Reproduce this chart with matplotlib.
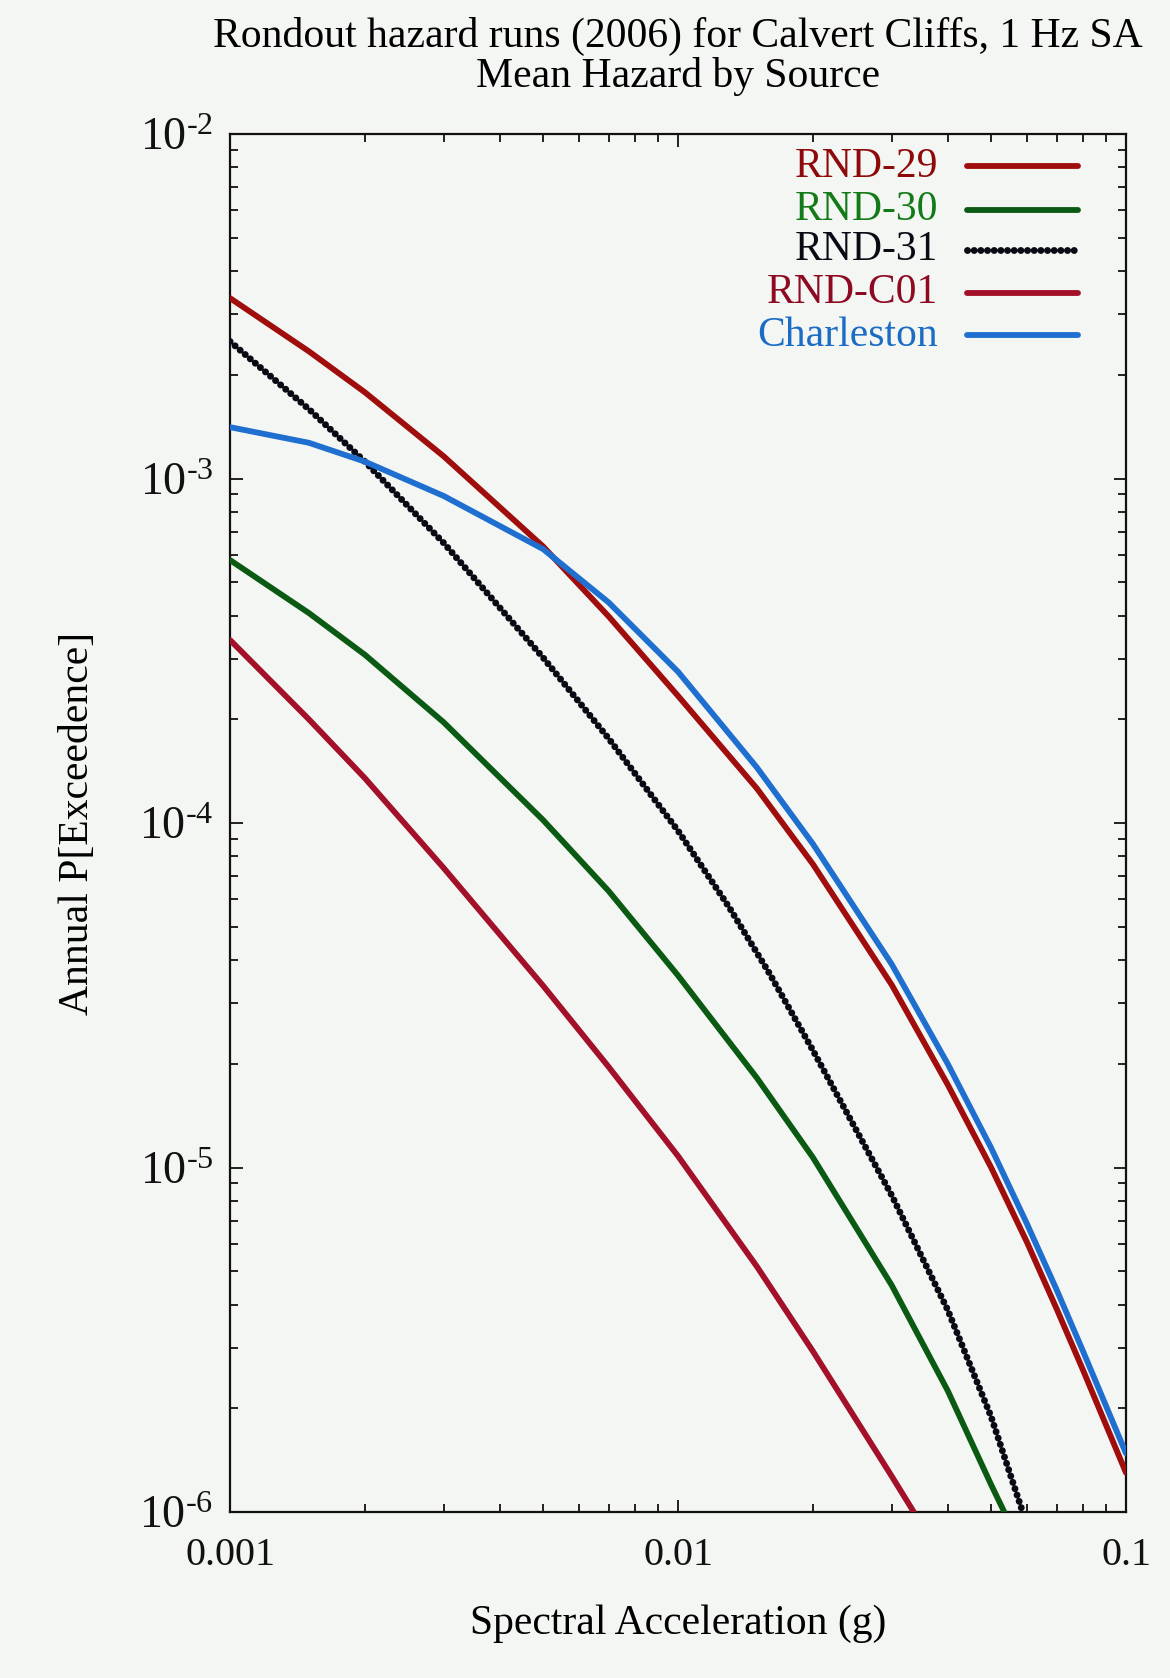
import matplotlib
matplotlib.use("Agg")
import matplotlib.pyplot as plt
from matplotlib.ticker import LogLocator, FixedLocator, FixedFormatter, NullFormatter

plt.rcParams['font.family'] = ['Liberation Serif', 'DejaVu Serif']
plt.rcParams['mathtext.fontset'] = 'custom'
plt.rcParams['mathtext.rm'] = 'Liberation Serif'
plt.rcParams['mathtext.it'] = 'Liberation Serif'

# spectral acceleration (g) and mean annual exceedance per source
sa_29 = [0.001, 0.0015, 0.002, 0.003, 0.005, 0.007, 0.01, 0.015, 0.02, 0.03, 0.04, 0.05, 0.06, 0.07, 0.08, 0.1]
rnd29 = [3.34e-3, 2.34e-3, 1.78e-3, 1.16e-3, 6.35e-4, 3.98e-4, 2.34e-4, 1.26e-4, 7.6e-5, 3.39e-5, 1.74e-5, 1.0e-5, 6.1e-6, 3.89e-6, 2.6e-6, 1.3e-6]

sa_30 = [0.001, 0.0015, 0.002, 0.003, 0.005, 0.007, 0.01, 0.015, 0.02, 0.03, 0.04, 0.05, 0.0535]
rnd30 = [5.8e-4, 4.07e-4, 3.08e-4, 1.96e-4, 1.02e-4, 6.35e-5, 3.61e-5, 1.82e-5, 1.07e-5, 4.55e-6, 2.25e-6, 1.2e-6, 1.0e-6]

sa_31 = [0.001, 0.0015, 0.002, 0.003, 0.005, 0.007, 0.01, 0.013, 0.016, 0.02, 0.03, 0.04, 0.05, 0.0588]
rnd31 = [2.5e-3, 1.59e-3, 1.12e-3, 6.5e-4, 3.02e-4, 1.76e-4, 9.5e-5, 5.7e-5, 3.66e-5, 2.19e-5, 8.3e-6, 3.86e-6, 1.89e-6, 1.0e-6]

sa_c01 = [0.001, 0.0015, 0.002, 0.003, 0.005, 0.007, 0.01, 0.015, 0.02, 0.03, 0.0336]
rndc01 = [3.4e-4, 2.0e-4, 1.35e-4, 7.4e-5, 3.37e-5, 1.96e-5, 1.08e-5, 5.16e-6, 2.93e-6, 1.27e-6, 1.0e-6]

sa_chs = [0.001, 0.0015, 0.002, 0.003, 0.005, 0.007, 0.01, 0.015, 0.02, 0.03, 0.04, 0.05, 0.06, 0.07, 0.08, 0.1]
charleston = [1.41e-3, 1.27e-3, 1.12e-3, 8.9e-4, 6.24e-4, 4.37e-4, 2.75e-4, 1.45e-4, 8.7e-5, 3.89e-5, 2.0e-5, 1.14e-5, 6.9e-6, 4.42e-6, 2.95e-6, 1.48e-6]

y_ticks = [1e-6, 1e-5, 1e-4, 1e-3, 1e-2]
y_tick_labels = [r'$10^{\text{-}6}$', r'$10^{\text{-}5}$', r'$10^{\text{-}4}$', r'$10^{\text{-}3}$', r'$10^{\text{-}2}$']
x_ticks = [0.001, 0.01, 0.1]
x_tick_labels = ['0.001', '0.01', '0.1']

bg = '#f4f6f3'
fig = plt.figure(figsize=(11.7, 16.78), dpi=100, facecolor=bg)
ax = fig.add_axes([0.1966, 0.0989, 0.7658, 0.8212], facecolor=bg)

series = [
    (sa_29, rnd29, 'RND-29', '#a00d0d', '#8e0a0a', '-'),
    (sa_30, rnd30, 'RND-30', '#0b5a14', '#137a18', '-'),
    (sa_31, rnd31, 'RND-31', '#0a0a14', '#0a0a14', (0, (0.01, 0.95))),
    (sa_c01, rndc01, 'RND-C01', '#a3102a', '#8e0a22', '-'),
    (sa_chs, charleston, 'Charleston', '#1f6fd0', '#1a6cc4', '-'),
]

for xs, ys, name, lc, tc, ls in series:
    lw = 5.0 if ls != '-' else 4.2
    ax.plot(xs, ys, color=lc, lw=lw, ls=ls, solid_capstyle='round',
            dash_capstyle='round', solid_joinstyle='round', zorder=3)

ax.set_xscale('log')
ax.set_yscale('log')
ax.set_xlim(0.001, 0.1)
ax.set_ylim(1e-6, 1e-2)

ax.xaxis.set_major_locator(FixedLocator(x_ticks))
ax.xaxis.set_major_formatter(FixedFormatter(x_tick_labels))
ax.yaxis.set_major_locator(FixedLocator(y_ticks))
ax.yaxis.set_major_formatter(FixedFormatter(y_tick_labels))
ax.xaxis.set_minor_locator(LogLocator(base=10, subs=range(2, 10)))
ax.yaxis.set_minor_locator(LogLocator(base=10, subs=range(2, 10)))
ax.xaxis.set_minor_formatter(NullFormatter())
ax.yaxis.set_minor_formatter(NullFormatter())

ax.tick_params(which='both', direction='in', top=True, right=True, width=1.3, colors='#111111')
ax.tick_params(which='major', length=9)
ax.tick_params(which='minor', length=5.5)
ax.tick_params(axis='x', which='major', pad=18, labelsize=29)
ax.tick_params(axis='y', which='major', pad=12, labelsize=33)
for sp in ax.spines.values():
    sp.set_linewidth(1.6)
    sp.set_color('#111111')

ax.set_xlabel('Spectral Acceleration (g)', fontsize=30, labelpad=22)
ax.set_ylabel('Annual P[Exceedence]', fontsize=30, labelpad=30)

fig.text(0.5795, 0.990, 'Rondout hazard runs (2006) for Calvert Cliffs, 1 Hz SA\nMean Hazard by Source',
         ha='center', va='top', fontsize=30, linespacing=1.05)

# key in the upper right: right-aligned coloured names with line samples
key_y = [0.9765, 0.945, 0.916, 0.885, 0.854]
for (xs, ys, name, lc, tc, ls), yk in zip(series, key_y):
    ax.text(0.79, yk, name, transform=ax.transAxes, ha='right', va='center',
            fontsize=30, color=tc)
    lw = 5.0 if ls != '-' else 4.2
    ax.plot([0.823, 0.946], [yk, yk], transform=ax.transAxes, color=lc, lw=lw,
            ls=ls, solid_capstyle='round', dash_capstyle='round', clip_on=False)

fig.savefig('out.png', dpi=100, facecolor=bg)
